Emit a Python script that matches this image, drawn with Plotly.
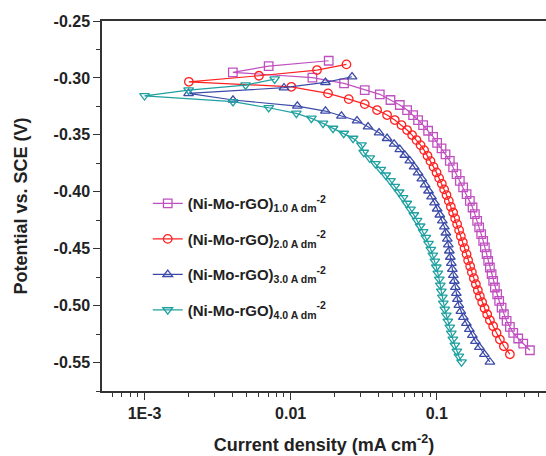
import plotly.graph_objects as go

# (Ni-Mo-rGO) 1.0 A dm-2
x1 = [0.01821, 0.00707, 0.00402, 0.01408, 0.02318, 0.03212, 0.04071, 0.04818, 0.0558, 0.0626,
      0.06882, 0.07441, 0.08055, 0.08717, 0.09434, 0.1005, 0.1077, 0.1147, 0.1227, 0.1293,
      0.1364, 0.1437, 0.1514, 0.1598, 0.1683, 0.1756, 0.1821, 0.1888, 0.1949, 0.2011,
      0.2076, 0.2132, 0.219, 0.2246, 0.2307, 0.237, 0.243, 0.2496, 0.2588, 0.2671,
      0.2774, 0.2877, 0.3002, 0.3162, 0.3332, 0.3605, 0.39, 0.4335]
y1 = [-0.2849, -0.2896, -0.2951, -0.2998, -0.3048, -0.3107, -0.3144, -0.3194, -0.3238, -0.3282,
      -0.3326, -0.337, -0.3414, -0.3464, -0.3517, -0.357, -0.3619, -0.3672, -0.3728, -0.3786,
      -0.3845, -0.3904, -0.3962, -0.4021, -0.408, -0.4138, -0.4196, -0.4255, -0.4313, -0.4372,
      -0.4431, -0.4489, -0.4548, -0.4607, -0.4665, -0.4724, -0.4783, -0.4841, -0.49, -0.4959,
      -0.5017, -0.5076, -0.5134, -0.5187, -0.524, -0.5289, -0.5333, -0.5392]

# (Ni-Mo-rGO) 2.0 A dm-2
x2 = [0.02407, 0.01514, 0.006066, 0.002011, 0.01011, 0.01801, 0.02496, 0.03212, 0.039, 0.04567,
      0.05157, 0.05731, 0.0626, 0.06773, 0.07261, 0.07735, 0.08185, 0.08635, 0.09053, 0.09493,
      0.09952, 0.1037, 0.1082, 0.1122, 0.1165, 0.1208, 0.1247, 0.1293, 0.1335, 0.1377,
      0.1421, 0.146, 0.1507, 0.1548, 0.1598, 0.1638, 0.1691, 0.1737, 0.1792, 0.185,
      0.1909, 0.197, 0.2043, 0.2122, 0.2211, 0.2307, 0.243, 0.2564, 0.2701, 0.2877, 0.3162]
y2 = [-0.2881, -0.2931, -0.2981, -0.3034, -0.3078, -0.3136, -0.3186, -0.323, -0.3282, -0.3326,
      -0.337, -0.3414, -0.3458, -0.3502, -0.3546, -0.359, -0.3634, -0.3684, -0.3731, -0.3781,
      -0.383, -0.388, -0.393, -0.3979, -0.4029, -0.408, -0.4132, -0.4182, -0.4234, -0.4284,
      -0.4337, -0.439, -0.4443, -0.4495, -0.4548, -0.4601, -0.4654, -0.4706, -0.4759, -0.4812,
      -0.4865, -0.4917, -0.497, -0.5023, -0.5076, -0.5128, -0.5181, -0.524, -0.5298, -0.5357, -0.5427]

# (Ni-Mo-rGO) 3.0 A dm-2
x3 = [0.0263, 0.01729, 0.009, 0.002002, 0.00403, 0.01111, 0.01729, 0.02225, 0.02845, 0.03384,
      0.04026, 0.04567, 0.051, 0.0558, 0.06035, 0.06533, 0.06991, 0.07441, 0.07894, 0.08318,
      0.08773, 0.09199, 0.09643, 0.1005, 0.1048, 0.1091, 0.1126, 0.1153, 0.118, 0.1199,
      0.1218, 0.1237, 0.1257, 0.1277, 0.1297, 0.1318, 0.1339, 0.136, 0.1382, 0.1415,
      0.146, 0.1519, 0.1593, 0.167, 0.1751, 0.1835, 0.1955, 0.2115, 0.2307]
y3 = [-0.299, -0.3039, -0.3086, -0.3136, -0.3194, -0.3247, -0.3291, -0.3335, -0.3376, -0.3429,
      -0.3482, -0.3531, -0.3581, -0.3628, -0.3678, -0.3728, -0.3781, -0.3833, -0.3886, -0.3939,
      -0.3992, -0.4044, -0.4097, -0.415, -0.4203, -0.4255, -0.4308, -0.4361, -0.4414, -0.4466,
      -0.4519, -0.4574, -0.4627, -0.468, -0.4733, -0.4785, -0.4838, -0.4891, -0.4944, -0.4996,
      -0.5049, -0.5102, -0.5155, -0.5207, -0.526, -0.5313, -0.5366, -0.5427, -0.5495]

# (Ni-Mo-rGO) 4.0 A dm-2
x4 = [0.007771, 0.004918, 0.002002, 0.001, 0.00403, 0.00707, 0.01094, 0.01386, 0.01664, 0.01949,
      0.02307, 0.02672, 0.0305, 0.03162, 0.03476, 0.03802, 0.04135, 0.04473, 0.04818, 0.05157,
      0.05518, 0.05875, 0.0623, 0.06605, 0.06959, 0.07331, 0.07685, 0.08055, 0.0841, 0.08773,
      0.09097, 0.09389, 0.0969, 0.09922, 0.1016, 0.104, 0.1057, 0.1073, 0.1091, 0.1108,
      0.1134, 0.1162, 0.1189, 0.1227, 0.1257, 0.1287, 0.1328, 0.1371, 0.1415, 0.1476]
y4 = [-0.301, -0.3063, -0.3107, -0.3157, -0.3209, -0.3262, -0.3311, -0.3355, -0.3399, -0.3443,
      -0.3487, -0.3531, -0.359, -0.3654, -0.3704, -0.3754, -0.3804, -0.3854, -0.3904, -0.3953,
      -0.4003, -0.4053, -0.4102, -0.4153, -0.4203, -0.4252, -0.4302, -0.4352, -0.4401, -0.4454,
      -0.4507, -0.4557, -0.461, -0.4662, -0.4715, -0.4768, -0.4821, -0.4873, -0.4926, -0.4979,
      -0.5032, -0.5084, -0.5137, -0.519, -0.5242, -0.5295, -0.5348, -0.5401, -0.5445, -0.5495]

densities = ["1.0", "2.0", "3.0", "4.0"]
colors = ["#C050C0", "#FF2020", "#3C4BA8", "#20A0A0"]
symbols = ["square-open", "circle-open", "triangle-up-open", "triangle-down-open"]

xtick_vals = [0.001, 0.01, 0.1]
xtick_text = ["1E-3", "0.01", "0.1"]
xminor = [m * d for d in (1e-4, 1e-3, 1e-2, 1e-1) for m in range(2, 10)]
ytick_vals = [-0.55, -0.50, -0.45, -0.40, -0.35, -0.30, -0.25]
ytick_text = ["-0.55", "-0.50", "-0.45", "-0.40", "-0.35", "-0.30", "-0.25"]

FONT = "Liberation Sans, Arial"
fig = go.Figure()
for i, (xs, ys) in enumerate([(x1, y1), (x2, y2), (x3, y3), (x4, y4)]):
    name = ("<b>(Ni-Mo-rGO)</b><sub><b>" + densities[i] + " A dm</b></sub><sup><b>-2</b></sup>")
    fig.add_trace(go.Scatter(
        x=xs, y=ys, mode="lines+markers", name=name, legendgroup=str(i),
        line=dict(color=colors[i], width=1.2),
        marker=dict(symbol=symbols[i], size=8.5, color=colors[i], line=dict(width=1.3, color=colors[i])),
    ))

tick_font = dict(family=FONT, size=16, color="#222", weight="bold")
fig.update_layout(
    width=546, height=456,
    margin=dict(l=102, r=0, t=21, b=65),
    paper_bgcolor="white", plot_bgcolor="white",
    font=dict(family=FONT, color="#222"),
    showlegend=True,
    legend=dict(x=0.103, y=0.551, xanchor="left", yanchor="top", bgcolor="rgba(0,0,0,0)",
                font=dict(family=FONT, size=15, color="#222"),
                tracegroupgap=13, itemwidth=30),
    xaxis=dict(type="log", range=[-3.291, -0.253], automargin=False,
               showline=True, linecolor="#333", linewidth=1.5,
               mirror=True, ticks="outside", ticklen=7, tickwidth=1.3, tickcolor="#333",
               tickvals=xtick_vals, ticktext=xtick_text, showgrid=False, zeroline=False,
               tickfont=tick_font,
               minor=dict(tickvals=xminor, ticks="outside", ticklen=4, tickwidth=1.2, tickcolor="#333", showgrid=False),
               title=dict(text="Current density (mA cm<sup>-2</sup>)", standoff=17,
                          font=dict(family=FONT, size=18, color="#222", weight="bold"))),
    yaxis=dict(range=[-0.575, -0.25], automargin=False,
               showline=True, linecolor="#333", linewidth=1.5, mirror=False,
               ticks="outside", ticklen=7, tickwidth=1.3, tickcolor="#333",
               tickvals=ytick_vals, ticktext=ytick_text, showgrid=False, zeroline=False,
               tickfont=tick_font,
               minor=dict(dtick=0.025, tick0=-0.25, ticks="outside", ticklen=4, tickwidth=1.2, tickcolor="#333", showgrid=False),
               title=dict(text="Potential vs. SCE (V)", standoff=21,
                          font=dict(family=FONT, size=18, color="#222", weight="bold"))),
)

fig.write_html("out.html", config={"displayModeBar": False},
               post_script="document.body.style.margin='0px';")
